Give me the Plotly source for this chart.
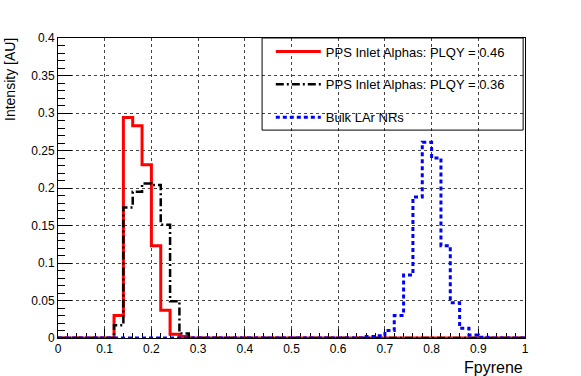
import plotly.graph_objects as go

BIN_WIDTH = 0.02
N_BINS = 50

# non-empty bins of each histogram: lower edge of the first bin, then contents
red_start = 0.12
red_values = [0.030, 0.294, 0.283, 0.231, 0.123, 0.037, 0.005, 0.002]
black_start = 0.12
black_values = [0.017, 0.174, 0.195, 0.206, 0.204, 0.151, 0.049, 0.006]
blue_start = 0.66
blue_values = [0.002, 0.003, 0.010, 0.030, 0.084, 0.188, 0.261, 0.240,
               0.123, 0.047, 0.013, 0.004, 0.001]

labels = ["PPS Inlet Alphas: PLQY = 0.46",
          "PPS Inlet Alphas: PLQY = 0.36",
          "Bulk LAr NRs"]

FONT = "Liberation Sans, Arial, Helvetica, sans-serif"


def _contents(start, values):
    """Full list of bin contents, empty bins set to zero."""
    first = round(start / BIN_WIDTH)
    y = [0.0] * N_BINS
    y[first:first + len(values)] = values
    return y


def _step(start, values, name, color, dash, width):
    edges = [round(i * BIN_WIDTH, 4) for i in range(N_BINS + 1)]
    y = _contents(start, values)
    return go.Scatter(
        x=edges,
        y=y + [y[-1]],
        mode="lines",
        line=dict(shape="hv", color=color, dash=dash, width=width),
        name=name,
        legendgroup=name,
    )


fig = go.Figure()
fig.add_trace(_step(red_start, red_values, labels[0], "#ff0000", "solid", 3))
fig.add_trace(_step(black_start, black_values, labels[1], "#000000", "8px,3px,2px,3px", 2.5))
fig.add_trace(_step(blue_start, blue_values, labels[2], "#0000ff", "4px,3px", 3))

axis_common = dict(
    showline=True, linecolor="black", linewidth=1, mirror=True,
    showgrid=True, gridcolor="#444444", griddash="dot", gridwidth=1,
    ticks="inside", tickcolor="black", tickwidth=1,
    zeroline=False, layer="below traces",
    tickfont=dict(family=FONT, size=12, color="black"),
)

fig.update_xaxes(range=[0, 1], dtick=0.1, tick0=0, ticklen=9,
                 minor=dict(ticks="inside", ticklen=5, dtick=0.02, tick0=0,
                            tickcolor="black", showgrid=False),
                 **axis_common)
fig.update_yaxes(range=[0, 0.4], dtick=0.05, tick0=0, ticklen=14,
                 minor=dict(ticks="inside", ticklen=7, dtick=0.01, tick0=0,
                            tickcolor="black", showgrid=False),
                 **axis_common)

# legend frame
fig.add_shape(type="rect", xref="paper", yref="paper",
              x0=0.437, x1=0.996, y0=0.693, y1=1.0,
              line=dict(color="black", width=1), fillcolor="rgba(0,0,0,0)")

fig.add_annotation(text="Intensity [AU]", xref="paper", yref="paper",
                   x=-0.103, y=1.008, xanchor="center", yanchor="top",
                   textangle=-90, showarrow=False,
                   font=dict(family=FONT, size=14, color="black"))
fig.add_annotation(text="Fpyrene", xref="paper", yref="paper",
                   x=1.0, y=-0.063, xanchor="right", yanchor="top",
                   showarrow=False,
                   font=dict(family=FONT, size=16, color="black"))

fig.update_layout(
    width=581, height=376,
    margin=dict(l=58, r=56, t=38, b=38),
    paper_bgcolor="white", plot_bgcolor="white",
    showlegend=True,
    legend=dict(x=0.4557, y=1.005, xanchor="left", yanchor="top",
                bgcolor="rgba(0,0,0,0)", borderwidth=0,
                itemwidth=45, tracegroupgap=13,
                font=dict(family=FONT, size=13, color="black")),
)

# drop the default 8px page margin so the figure fills the window
fig.write_html("out.html", config={"displayModeBar": False},
               post_script="document.body.style.margin = '0';")
